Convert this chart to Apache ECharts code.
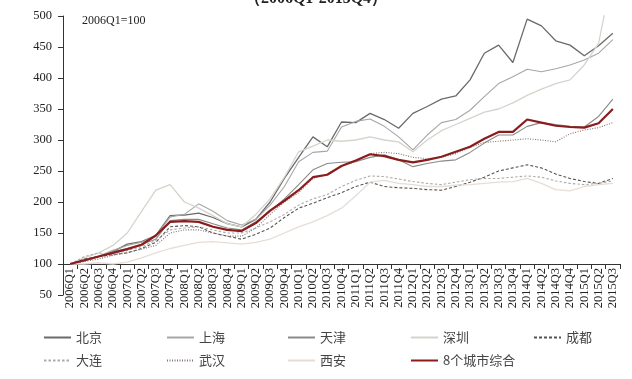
<!DOCTYPE html>
<html>
<head>
<meta charset="utf-8">
<script src="https://cdn.jsdelivr.net/npm/echarts@6/dist/echarts.min.js"></script>
<style>html,body{margin:0;padding:0;background:#fff}#c{width:632px;height:379px}</style>
</head>
<body>
<div id="c"></div>
<script>
const categories = ['2006Q1','2006Q2','2006Q3','2006Q4','2007Q1','2007Q2','2007Q3','2007Q4','2008Q1','2008Q2','2008Q3','2008Q4','2009Q1','2009Q2','2009Q3','2009Q4','2010Q1','2010Q2','2010Q3','2010Q4','2011Q1','2011Q2','2011Q3','2011Q4','2012Q1','2012Q2','2012Q3','2012Q4','2013Q1','2013Q2','2013Q3','2013Q4','2014Q1','2014Q2','2014Q3','2014Q4','2015Q1','2015Q2','2015Q3'];
const beijing   = [100,106,112,120,132,136,146,178,179,182,175,165,160,172,200,238,272,305,289,329,328,343,333,319,343,354,366,371,397,440,453,425,495,484,460,453,436,452,472];
const shanghai  = [100,107,113,122,130,135,145,176,180,197,185,170,163,172,195,225,265,280,282,321,330,334,322,305,284,308,328,333,348,370,391,402,414,410,415,421,429,440,462];
const tianjin   = [100,105,112,120,125,132,140,170,172,172,165,158,155,168,185,205,228,252,262,264,265,272,276,268,257,262,266,268,280,295,308,308,322,328,325,322,321,338,366];
const shenzhen  = [100,110,118,130,150,185,219,228,200,190,178,165,160,180,205,240,281,290,300,298,300,305,300,297,281,300,315,325,335,345,350,360,372,382,391,397,421,456,570];
const chengdu   = [100,108,112,115,118,125,135,160,162,160,150,145,140,148,158,175,190,198,207,215,225,232,225,223,222,220,219,225,232,240,250,255,260,255,245,238,233,230,238];
const dalian    = [100,112,118,115,122,128,138,155,158,160,155,150,150,158,168,180,195,205,212,225,235,242,241,237,233,230,228,232,236,238,238,240,242,240,234,230,228,230,234];
const wuhan     = [100,104,108,114,118,124,130,150,155,155,150,145,145,158,180,200,215,238,245,258,265,278,280,278,272,270,272,278,288,296,298,300,302,300,297,310,316,320,328];
const xian      = [100,100,102,100,103,110,118,125,130,135,136,134,132,135,140,150,160,168,178,190,210,232,235,230,228,225,225,227,228,230,232,233,238,230,220,218,225,228,230];
const composite = [100,106,112,118,124,131,146,168,169,168,160,155,153,166,186,202,219,240,244,258,267,277,274,268,264,268,273,281,289,302,313,313,333,328,323,321,320,327,350];

const names = ['北京','上海','天津','深圳','成都','大连','武汉','西安','8个城市综合'];
const seriesData = [beijing, shanghai, tianjin, shenzhen, chengdu, dalian, wuhan, xian, composite];
const styles = [
  {color:'#6a6a6a', width:1.3, type:'solid'},
  {color:'#a6a6a6', width:1.1, type:'solid'},
  {color:'#8a8a8a', width:1.1, type:'solid'},
  {color:'#d6d3cc', width:1.3, type:'solid'},
  {color:'#555555', width:1.1, type:[3,2]},
  {color:'#ababab', width:1.1, type:[2.5,2]},
  {color:'#857272', width:1.1, type:[1,1.5]},
  {color:'#e6ddd6', width:1.3, type:'solid'},
  {color:'#8b1c1c', width:2.2, type:'solid'}
];

const serif = '"Liberation Serif","DejaVu Serif",serif';
const cjk = '"Noto Sans CJK SC","Noto Sans",sans-serif';

const legendLefts = [38,161,282,405,528,38,161,282,405];
const legendTops  = [326,326,326,326,326,349,349,349,349];

const chart = echarts.init(document.getElementById('c'), null, {renderer:'canvas'});
chart.setOption({
  animation:false,
  backgroundColor:'#fff',
  grid:{left:63, right:12, top:16, bottom:84, containLabel:false},
  xAxis:{
    type:'category', data:categories, boundaryGap:true, offset:-31,
    axisLine:{lineStyle:{color:'#333', width:1}},
    axisTick:{show:true, length:5, inside:false, lineStyle:{color:'#333'}},
    axisLabel:{rotate:90, interval:0, margin:4, fontFamily:serif, fontSize:12.5, color:'#222'}
  },
  yAxis:{
    type:'value', min:50, max:500, interval:50,
    axisLine:{show:true, lineStyle:{color:'#333', width:1}},
    axisTick:{show:true, length:5, lineStyle:{color:'#333'}},
    splitLine:{show:false},
    axisLabel:{margin:11, fontFamily:serif, fontSize:12.5, color:'#222'}
  },
  legend: names.map((n,i)=>({
    data:[n], left:legendLefts[i], top:legendTops[i], itemWidth:27, itemHeight:12,
    itemStyle:{opacity:0},
    textStyle:{fontFamily:cjk, fontSize:13, color:'#444'}, selectedMode:false
  })),
  graphic:[
    {type:'text', left:'center', top:-9, style:{text:'（2006Q1-2015Q4）', font:'bold 16px '+serif, fill:'#222'}},
    {type:'text', left:82, top:15, style:{text:'2006Q1=100', font:'12px '+serif, fill:'#222'}}
  ],
  series: seriesData.map((d,i)=>({
    name:names[i], type:'line', data:d, symbol:'none', smooth:false,
    lineStyle:{color:styles[i].color, width:styles[i].width, type:styles[i].type},
    itemStyle:{color:styles[i].color}, z: i===8 ? 5 : 2
  }))
});
</script>
</body>
</html>
